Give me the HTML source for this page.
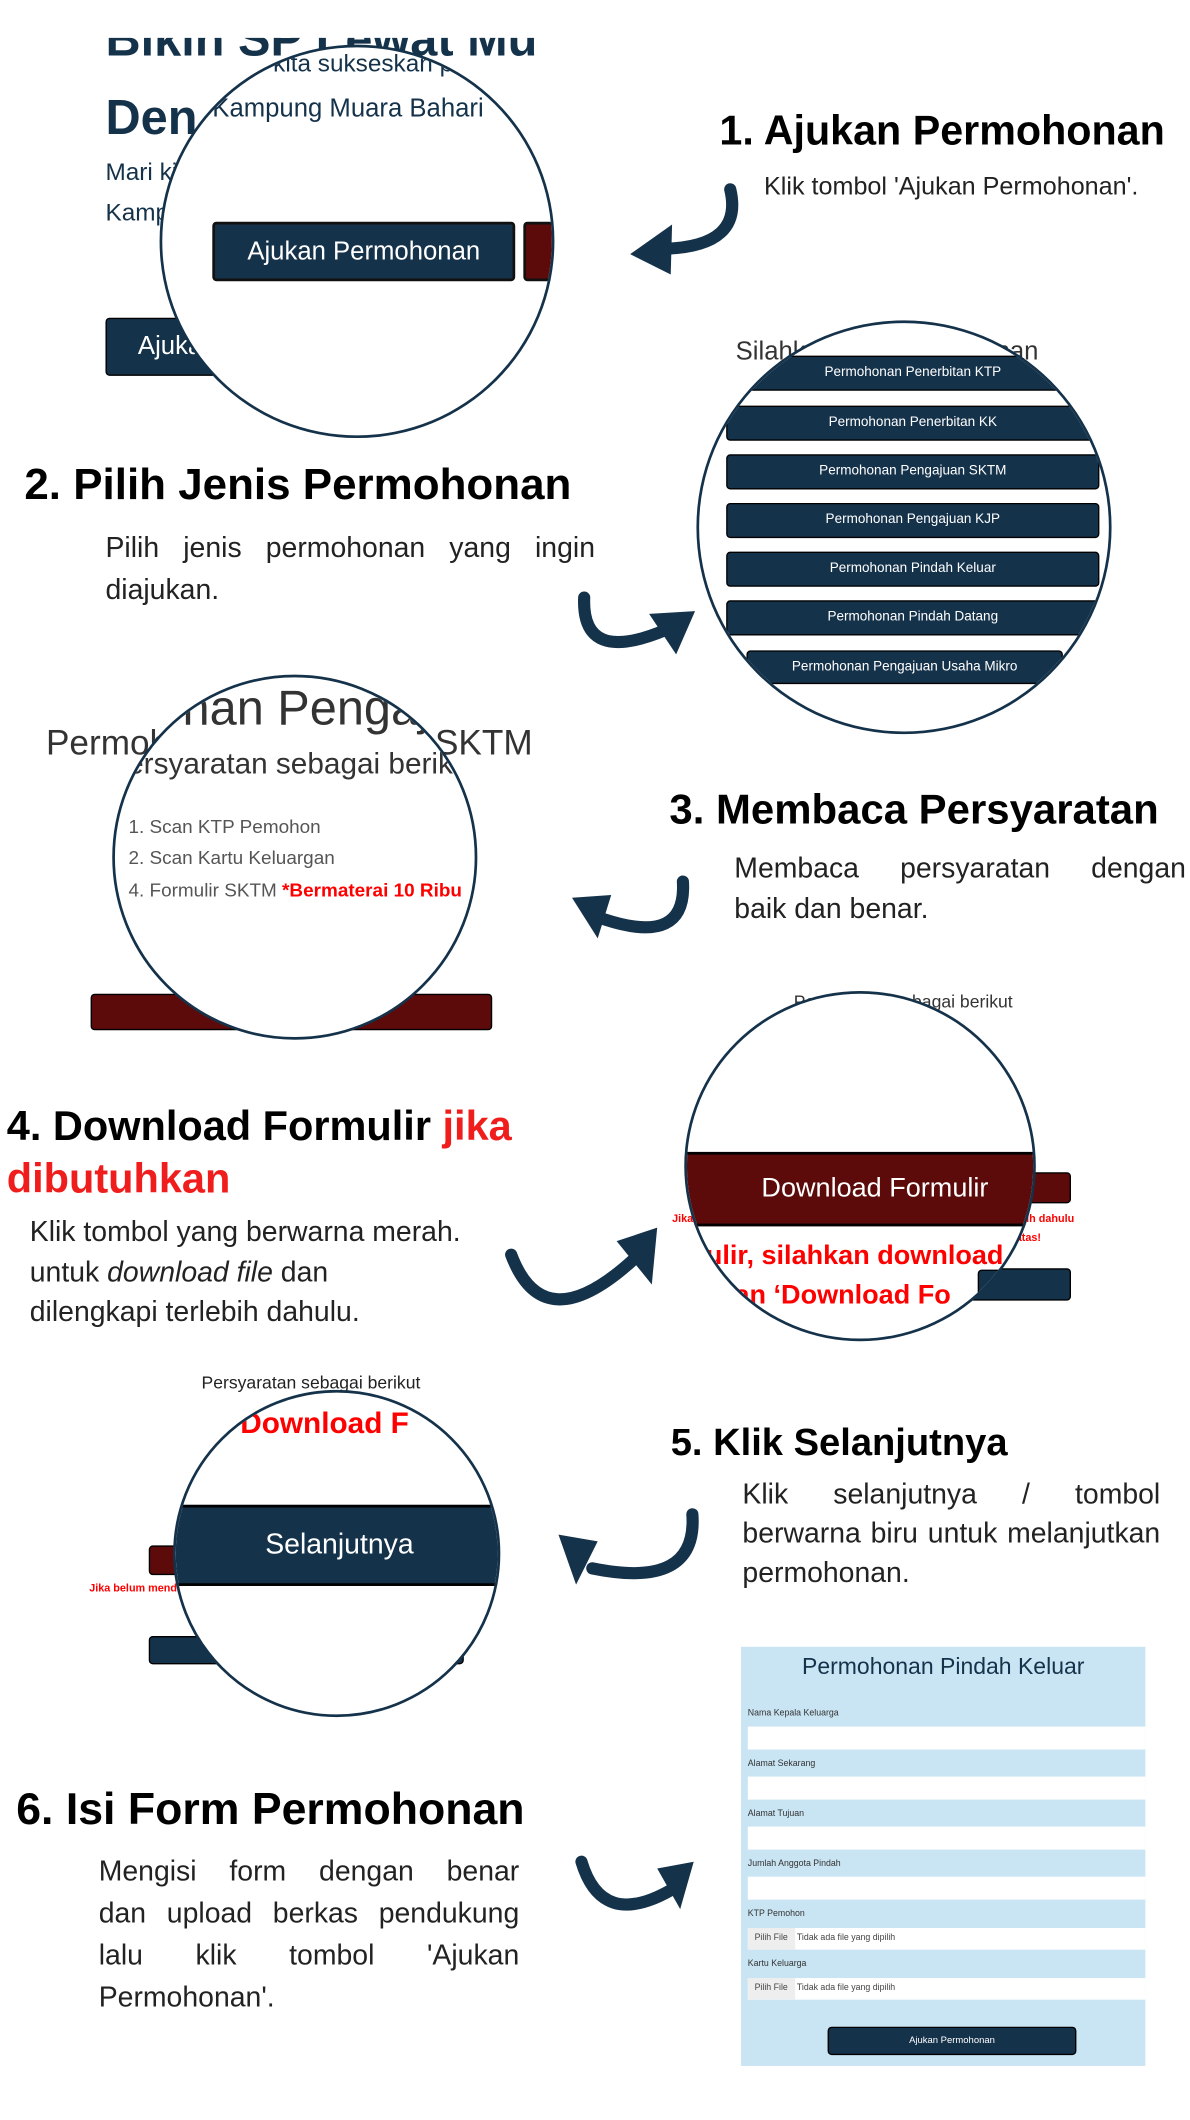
<!DOCTYPE html>
<html><head><meta charset="utf-8">
<style>
html,body{margin:0;padding:0;background:#fff;}
body{width:1190px;height:2120px;overflow:hidden;position:relative;}
#s{position:absolute;left:0;top:0;width:880px;height:1568px;transform:scale(1.35227,1.35204);transform-origin:0 0;font-family:"Liberation Sans",sans-serif;}
.a{position:absolute;white-space:nowrap;}
.c{position:absolute;border-radius:50%;border:2px solid #15324b;background:#fff;overflow:hidden;box-sizing:border-box;}
.h{position:absolute;font-weight:bold;font-size:29px;color:#000;white-space:nowrap;}
.t{position:absolute;font-size:21px;color:#222;white-space:nowrap;}
.t div{text-align:justify;text-align-last:justify;}
.t div.l{text-align-last:left;}
.btn{position:absolute;background:#15324b;border:1px solid #000;border-radius:3px;color:#fff;text-align:center;box-sizing:border-box;white-space:nowrap;}
.red{position:absolute;background:#5c0a0a;border:1px solid #000;border-radius:3px;box-sizing:border-box;}
.lb{position:absolute;left:5px;font-size:6.5px;color:#333;}
.in{position:absolute;left:5px;right:0;height:17px;background:#fff;}
</style></head><body><div id="s">

<!-- step 1 background -->
<div class="a" style="left:0;top:28px;width:440px;height:300px;overflow:hidden;">
<div class="a" style="left:78px;top:-20px;font-size:36px;font-weight:bold;color:#15324b;">Bikin SP Lewat Mu</div>
</div>
<div class="a" style="left:78px;top:66px;font-size:36px;font-weight:bold;color:#15324b;">Den</div>
<div class="a" style="left:78px;top:117px;font-size:18px;color:#15324b;">Mari kita</div>
<div class="a" style="left:78px;top:147px;font-size:18px;color:#15324b;">Kampung</div>
<div class="btn" style="left:78px;top:235px;width:200px;height:43px;font-size:19px;line-height:41px;text-align:left;padding-left:23px;">Ajukan</div>
<div class="c" style="left:118px;top:33px;width:292px;height:291px;">
 <div class="a" style="left:82px;top:2px;font-size:18px;color:#15324b;">kita sukseskan p</div>
 <div class="a" style="left:37px;top:35px;font-size:19px;color:#15324b;">Kampung Muara Bahari</div>
 <div class="btn" style="left:37px;top:129px;width:224px;height:44px;font-size:19px;line-height:42px;border:2px solid #111;">Ajukan Permohonan</div>
 <div class="red" style="left:267px;top:129px;width:40px;height:44px;border:2px solid #111;"></div>
</div>
<div class="h" style="left:532px;top:80px;font-size:30.5px;">1. Ajukan Permohonan</div>
<div class="a" style="left:565px;top:127px;font-size:18.6px;color:#222;">Klik tombol 'Ajukan Permohonan'.</div>

<!-- step 2 -->
<div class="a" style="left:544px;top:250px;font-size:19px;color:#333;">Silahkan pilih permohonan</div>
<div class="c" style="left:515px;top:237px;width:307px;height:306px;">
 <div class="btn" style="left:20px;top:24px;width:276px;height:26px;font-size:10px;line-height:24px;">Permohonan Penerbitan KTP</div>
 <div class="btn" style="left:20px;top:61px;width:276px;height:26px;font-size:10px;line-height:24px;">Permohonan Penerbitan KK</div>
 <div class="btn" style="left:20px;top:97px;width:276px;height:26px;font-size:10px;line-height:24px;">Permohonan Pengajuan SKTM</div>
 <div class="btn" style="left:20px;top:133px;width:276px;height:26px;font-size:10px;line-height:24px;">Permohonan Pengajuan KJP</div>
 <div class="btn" style="left:20px;top:169px;width:276px;height:26px;font-size:10px;line-height:24px;">Permohonan Pindah Keluar</div>
 <div class="btn" style="left:20px;top:205px;width:276px;height:26px;font-size:10px;line-height:24px;">Permohonan Pindah Datang</div>
 <div class="btn" style="left:35px;top:242px;width:234px;height:25px;font-size:10px;line-height:23px;">Permohonan Pengajuan Usaha Mikro</div>
</div>
<div class="h" style="left:18px;top:340px;font-size:32.5px;">2. Pilih Jenis Permohonan</div>
<div class="t" style="left:78px;top:390px;width:362px;line-height:31px;"><div>Pilih jenis permohonan yang ingin</div><div class="l">diajukan.</div></div>

<!-- step 3 -->
<div class="a" style="left:34px;top:534px;font-size:26px;color:#333;">Permohonan Pengajuan SKTM</div>
<div class="red" style="left:67px;top:735px;width:297px;height:27px;"></div>
<div class="c" style="left:83px;top:499px;width:270px;height:270px;">
 <div class="a" style="left:50px;top:2px;font-size:36px;color:#333;">han Pengaju</div>
 <div class="a" style="left:9px;top:51px;font-size:22px;color:#333;">ersyaratan sebagai berikut</div>
 <div class="a" style="left:10px;top:102px;font-size:14px;color:#555;">1. Scan KTP Pemohon</div>
 <div class="a" style="left:10px;top:125px;font-size:14px;color:#555;">2. Scan Kartu Keluargan</div>
 <div class="a" style="left:10px;top:149px;font-size:14px;color:#555;">4. Formulir SKTM <b style="color:#f00;">*Bermaterai 10 Ribu</b></div>
</div>
<div class="h" style="left:495px;top:581px;font-size:31px;">3. Membaca Persyaratan</div>
<div class="t" style="left:543px;top:628px;width:334px;line-height:30px;"><div>Membaca persyaratan dengan</div><div class="l">baik dan benar.</div></div>

<!-- step 4 -->
<div class="a" style="left:587px;top:733px;font-size:13px;color:#333;">Persyaratan sebagai berikut</div>
<div class="red" style="left:700px;top:867px;width:92px;height:23px;"></div>
<div class="btn" style="left:700px;top:938px;width:92px;height:24px;"></div>
<div class="a" style="left:497px;top:897px;font-size:8px;font-weight:bold;color:#f00;">Jika belum mendownload formulir, silahkan download formulir terlebih dahulu</div>
<div class="a" style="left:590px;top:911px;font-size:8px;font-weight:bold;color:#f00;">dengan klik tombol 'Download Formulir' diatas!</div>
<div class="c" style="left:506px;top:733px;width:260px;height:259px;">
 <div class="a" style="left:0;top:117px;width:260px;height:51px;background:#5c0a0a;border-top:2px solid #000;border-bottom:2px solid #000;color:#fff;font-size:20px;line-height:51px;text-align:center;text-indent:18px;">Download Formulir</div>
 <div class="a" style="left:14px;top:183px;font-size:20px;font-weight:bold;color:#f00;">ulir, silahkan download</div>
 <div class="a" style="left:24px;top:212px;font-size:20px;font-weight:bold;color:#f00;">kan ‘Download Fo</div>
 <div class="btn" style="left:215px;top:204px;width:60px;height:26px;"></div>
</div>
<div class="h" style="left:5px;top:813px;line-height:39px;font-size:30.7px;">4. Download Formulir <span style="color:#f01d1d;">jika</span><br><span style="color:#f01d1d;">dibutuhkan</span></div>
<div class="a" style="left:22px;top:897px;font-size:21px;color:#222;line-height:29.5px;">Klik tombol yang berwarna merah.<br>untuk <i>download file</i> dan<br>dilengkapi terlebih dahulu.</div>

<!-- step 5 -->
<div class="a" style="left:149px;top:1015px;font-size:13px;color:#222;">Persyaratan sebagai berikut</div>
<div class="red" style="left:110px;top:1143px;width:40px;height:22px;"></div>
<div class="btn" style="left:110px;top:1210px;width:233px;height:21px;"></div>
<div class="a" style="left:66px;top:1170px;font-size:8px;font-weight:bold;color:#f00;">Jika belum mendownload formulir, silahkan download formulir terlebih dahulu</div>
<div class="c" style="left:128px;top:1028px;width:242px;height:242px;">
 <div class="a" style="left:22px;top:10px;font-size:22px;font-weight:bold;color:#f00;">n ‘Download F</div>
 <div class="a" style="left:0;top:83px;width:242px;height:60px;background:#15324b;border-top:2px solid #000;border-bottom:2px solid #000;box-sizing:border-box;color:#fff;font-size:21px;line-height:56px;text-align:center;">Selanjutnya</div>
</div>
<div class="h" style="left:496px;top:1050px;font-size:28.2px;">5. Klik Selanjutnya</div>
<div class="t" style="left:549px;top:1091px;width:309px;line-height:29px;"><div>Klik selanjutnya / tombol</div><div>berwarna biru untuk melanjutkan</div><div class="l">permohonan.</div></div>

<!-- step 6 form -->
<div class="a" style="left:548px;top:1218px;width:299px;height:310px;background:#c9e4f3;">
 <div class="a" style="left:0;top:5px;width:299px;text-align:center;font-size:17px;color:#15324b;">Permohonan Pindah Keluar</div>
 <div class="lb" style="top:46px;">Nama Kepala Keluarga</div><div class="in" style="top:59px;"></div>
 <div class="lb" style="top:83px;">Alamat Sekarang</div><div class="in" style="top:96px;"></div>
 <div class="lb" style="top:120px;">Alamat Tujuan</div><div class="in" style="top:133px;"></div>
 <div class="lb" style="top:157px;">Jumlah Anggota Pindah</div><div class="in" style="top:170px;"></div>
 <div class="lb" style="top:194px;">KTP Pemohon</div><div class="in" style="top:208px;height:16px;font-size:6.5px;line-height:16px;color:#444;"><span style="background:#eee;padding:0 5px;display:inline-block;height:16px;">Pilih File</span> Tidak ada file yang dipilih</div>
 <div class="lb" style="top:231px;">Kartu Keluarga</div><div class="in" style="top:245px;height:16px;font-size:6.5px;line-height:16px;color:#444;"><span style="background:#eee;padding:0 5px;display:inline-block;height:16px;">Pilih File</span> Tidak ada file yang dipilih</div>
 <div class="btn" style="left:64px;top:281px;width:184px;height:21px;font-size:7px;line-height:19px;">Ajukan Permohonan</div>
</div>
<div class="h" style="left:12px;top:1319px;font-size:33px;">6. Isi Form Permohonan</div>
<div class="t" style="left:73px;top:1369px;width:311px;line-height:31px;"><div>Mengisi form dengan benar</div><div>dan upload berkas pendukung</div><div>lalu klik tombol 'Ajukan</div><div class="l">Permohonan'.</div></div>

<!-- arrows -->
<svg class="a" style="left:0;top:0;" width="880" height="1568" viewBox="0 0 880 1568">
<g fill="none" stroke="#15324b" stroke-width="9" stroke-linecap="round">
<path d="M540,140 Q550,182 492,184"/>
<path d="M432,442 Q430,492 492,466"/>
<path d="M505,652 Q508,700 447,680"/>
<path d="M378,928 Q402,992 468,932"/>
<path d="M512,1120 Q516,1176 438,1160"/>
<path d="M430,1377 Q445,1427 496,1398"/>
</g>
<g fill="#15324b">
<polygon points="466,188 497,166 496,203"/>
<polygon points="514,452 480,454 500,484"/>
<polygon points="423,664 452,662 442,694"/>
<polygon points="486,908 456,918 482,950"/>
<polygon points="413,1135 442,1140 426,1172"/>
<polygon points="513,1377 486,1382 503,1412"/>
</g>
</svg>
</div></body></html>
